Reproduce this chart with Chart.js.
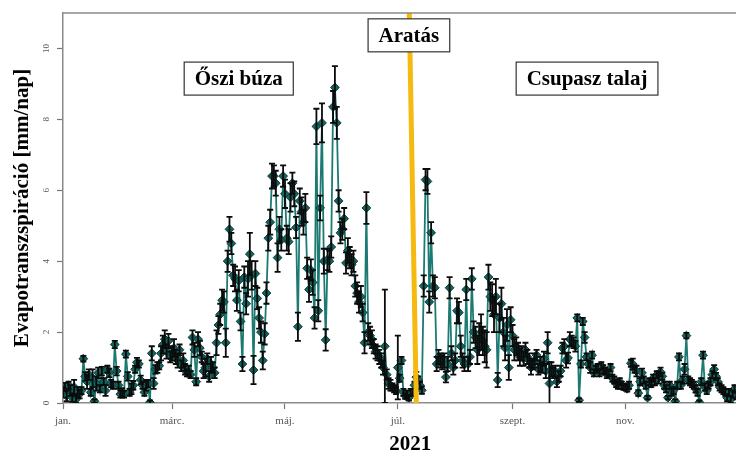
<!DOCTYPE html>
<html>
<head>
<meta charset="utf-8">
<script src="https://cdn.jsdelivr.net/npm/chart.js@4.4.0/dist/chart.umd.min.js"></script>
<style>
  html, body { margin: 0; padding: 0; background: #fff; overflow: hidden; }
  #wrap { width: 763px; height: 457px; }
</style>
</head>
<body>
<div id="wrap"><canvas id="etChart"></canvas></div>
<script>
// Daily evapotranspiration, 2021 (day 0 = jan. 1)
const etValues = [
  0.3, 0.45, 0.2, 0.5, 0.35, 0.15, 0.45, 0.1, 0.3, 0.25,
  0.35, 1.25, 0.75, 0.6, 0.8, 0.3, 0.7, 0.05, 0.55, 0.85,
  0.4, 0.9, 0.6, 0.35, 0.95, 0.85, 0.55, 0.5, 1.65, 0.9,
  0.5, 0.25, 0.3, 0.25, 1.38, 0.75, 0.3, 0.4, 0.5, 0.95,
  1.15, 1.1, 0.65, 0.5, 0.3, 0.5, 0.55, 0.02, 1.4, 0.55,
  0.95, 1.0, 1.05, 1.4, 1.65, 1.8, 1.45, 1.75, 1.3, 1.4,
  1.55, 1.3, 1.2, 1.5, 1.05, 1.2, 0.95, 0.85, 0.9, 0.8,
  1.85, 1.5, 0.6, 1.8, 1.55, 1.3, 0.9, 1.0, 1.25, 0.75,
  1.1, 1.0, 0.85, 1.7, 2.2, 2.5, 2.9, 2.85, 1.7, 4.0,
  4.9, 4.5, 3.6, 3.5, 2.9, 3.45, 2.3, 1.1, 3.55, 2.8,
  3.5, 4.2, 3.6, 0.93, 3.65, 2.95, 2.4, 2.0, 1.2, 1.95,
  3.1, 4.65, 5.1, 6.4, 6.4, 6.2, 4.1, 4.9, 4.6, 6.4,
  5.9, 4.65, 4.55, 5.8, 6.2, 5.9, 4.95, 2.15, 5.7, 5.4,
  5.1, 5.5, 3.8, 3.2, 3.75, 3.4, 2.4, 7.8, 2.6, 5.5,
  7.9, 4.0, 1.78, 4.05, 4.0, 4.4, 8.35, 8.9, 7.9, 5.7,
  4.8, 4.9, 5.2, 3.95, 4.3, 4.1, 3.9, 4.0, 3.3, 3.1,
  2.85, 3.0, 2.55, 1.7, 5.5, 2.0, 1.9, 1.8, 1.6, 1.45,
  1.4, 1.3, 1.2, 1.0, 1.6, 0.8, 0.55, 0.5, 0.45, 0.4,
  0.35, 1.0, 0.7, 1.2, 0.3, 0.2, 0.25, 0.15, 0.3, 0.3,
  0.5, 0.73, 0.65, 0.5, 0.36, 3.3, 6.3, 6.25, 2.85, 4.8,
  3.3, 3.25, 1.1, 1.3, 1.2, 1.15, 1.2, 0.73, 1.1, 3.25,
  1.4, 1.0, 1.2, 2.6, 2.55, 1.6, 1.2, 1.1, 3.2, 1.1,
  1.3, 3.5, 2.0, 1.85, 1.5, 1.8, 2.0, 1.75, 1.6, 1.5,
  3.55, 3.0, 2.9, 2.5, 3.0, 0.65, 2.4, 2.8, 2.0, 1.55,
  2.2, 1.0, 2.35, 1.9, 1.5, 1.6, 1.45, 1.3, 1.4, 1.25,
  1.5, 1.3, 1.2, 1.0, 1.1, 1.2, 1.35, 0.95, 1.1, 1.0,
  1.25, 0.9, 1.7, 0.55, 0.95, 0.85, 0.9, 0.6, 0.75, 0.9,
  1.55, 1.6, 1.2, 1.27, 1.8, 1.75, 1.7, 1.6, 2.4, 0.08,
  1.1, 2.3, 1.85, 1.3, 1.1, 1.0, 1.35, 0.85, 0.95, 1.0,
  0.85, 1.05, 0.95, 0.9, 0.8, 0.85, 1.0, 0.7, 0.65, 0.55,
  0.5, 0.6, 0.5, 0.45, 0.45, 0.4, 0.5, 1.12, 1.1, 0.95,
  0.9, 0.28, 0.6, 0.85, 0.65, 0.5, 0.15, 0.6, 0.55, 0.7,
  0.6, 0.8, 0.7, 0.88, 0.75, 0.5, 0.4, 0.15, 0.5, 0.3,
  0.35, 0.05, 0.5, 1.3, 0.5, 0.65, 0.95, 1.9, 0.65, 0.6,
  0.55, 0.5, 0.4, 0.3, 0.02, 0.6, 1.35, 0.45, 0.35, 0.5,
  0.6, 0.8, 0.95, 0.75, 0.6, 0.45, 0.4, 0.35, 0.3, 0.15,
  0.3, 0.1, 0.25, 0.4, 0.2
];

// Half-length of the error bar for each day
const etErrors = [
  0.15, 0.12, 0.15, 0.1, 0.15, 0.12, 0.2, 0.1, 0.15, 0.12,
  0.1, 0.08, 0.12, 0.2, 0.15, 0.1, 0.25, 0.05, 0.2, 0.15,
  0.1, 0.12, 0.1, 0.15, 0.1, 0.12, 0.1, 0.1, 0.1, 0.12,
  0.1, 0.1, 0.12, 0.1, 0.1, 0.12, 0.1, 0.15, 0.12, 0.1,
  0.12, 0.1, 0.12, 0.1, 0.1, 0.15, 0.1, 0.05, 0.2, 0.15,
  0.12, 0.15, 0.1, 0.2, 0.25, 0.25, 0.2, 0.2, 0.15, 0.2,
  0.25, 0.2, 0.2, 0.15, 0.15, 0.2, 0.15, 0.1, 0.15, 0.1,
  0.2, 0.2, 0.1, 0.2, 0.2, 0.15, 0.2, 0.25, 0.15, 0.15,
  0.2, 0.15, 0.15, 0.35, 0.25, 0.3, 0.3, 0.3, 0.4, 0.3,
  0.35, 0.3, 0.3, 0.35, 0.3, 0.3, 0.25, 0.2, 0.3, 0.3,
  0.5, 0.6, 0.4, 0.4, 0.35, 0.3, 0.3, 0.3, 0.25, 0.3,
  0.3, 0.35, 0.35, 0.35, 0.3, 0.35, 0.4, 0.35, 0.3, 0.3,
  0.4, 0.35, 0.35, 0.4, 0.3, 0.35, 0.3, 0.4, 0.35, 0.4,
  0.35, 0.4, 0.3, 0.35, 0.3, 0.35, 0.3, 0.5, 0.3, 0.35,
  0.55, 0.35, 0.3, 0.3, 0.3, 0.3, 0.45, 0.6, 0.45, 0.3,
  0.3, 0.3, 0.3, 0.3, 0.35, 0.3, 0.3, 0.3, 0.3, 0.3,
  0.3, 0.3, 0.25, 0.3, 0.45, 0.25, 0.25, 0.25, 0.2, 0.2,
  0.2, 0.2, 0.2, 0.2, 1.6, 0.15, 0.15, 0.15, 0.1, 0.1,
  0.1, 0.9, 0.1, 0.1, 0.1, 0.08, 0.1, 0.08, 0.1, 0.1,
  0.1, 0.15, 0.1, 0.1, 0.1, 0.3, 0.3, 0.35, 0.3, 0.3,
  0.3, 0.3, 0.2, 0.2, 0.2, 0.2, 0.2, 0.15, 0.2, 0.3,
  0.2, 0.2, 0.2, 0.35, 0.3, 0.3, 0.2, 0.2, 0.3, 0.2,
  0.2, 0.3, 0.3, 0.3, 0.4, 0.45, 0.5, 0.4, 0.45, 0.5,
  0.35, 0.4, 0.45, 0.5, 0.5, 0.2, 0.4, 0.45, 0.4, 0.35,
  0.45, 0.35, 0.35, 0.3, 0.3, 0.25, 0.25, 0.25, 0.2, 0.2,
  0.2, 0.2, 0.2, 0.2, 0.15, 0.2, 0.15, 0.15, 0.2, 0.15,
  0.2, 0.2, 0.3, 0.6, 0.2, 0.15, 0.15, 0.15, 0.15, 0.15,
  0.15, 0.2, 0.2, 0.15, 0.2, 0.15, 0.15, 0.15, 0.1, 0.05,
  0.1, 0.1, 0.15, 0.1, 0.1, 0.15, 0.1, 0.1, 0.1, 0.1,
  0.1, 0.1, 0.12, 0.1, 0.1, 0.1, 0.1, 0.1, 0.1, 0.1,
  0.1, 0.1, 0.1, 0.08, 0.08, 0.08, 0.1, 0.1, 0.15, 0.1,
  0.15, 0.08, 0.1, 0.12, 0.1, 0.1, 0.05, 0.1, 0.1, 0.1,
  0.1, 0.1, 0.15, 0.12, 0.1, 0.1, 0.1, 0.05, 0.1, 0.1,
  0.1, 0.05, 0.1, 0.1, 0.1, 0.1, 0.15, 0.08, 0.1, 0.1,
  0.1, 0.1, 0.1, 0.1, 0.05, 0.1, 0.1, 0.1, 0.1, 0.1,
  0.1, 0.1, 0.12, 0.1, 0.1, 0.1, 0.1, 0.1, 0.1, 0.1,
  0.1, 0.1, 0.1, 0.1, 0.1
];

// Axis ticks
const monthDays = [0, 59, 120, 181, 243, 304];
const monthLabels = ["jan.", "márc.", "máj.", "júl.", "szept.", "nov."];
const yTicks = [0, 2, 4, 6, 8, 10];

// Harvest line (day, value) at the top and at the bottom
const harvestDays = [187.2, 191];
const harvestValues = [11, 0];

// Labels in boxes: [day, value, text]
const boxLabels = [
  [95, 9.15, "Őszi búza"],
  [187, 10.37, "Aratás"],
  [283.3, 9.15, "Csupasz talaj"]
];

const serif = "'Liberation Serif', 'Times New Roman', serif";

// error bars for the main series
const errorBars = {
  id: "errorBars",
  afterDatasetDraw(chart, args) {
    if (args.index !== 0) return;
    const { ctx, chartArea } = chart;
    const xs = chart.scales.x, ys = chart.scales.y;
    ctx.save();
    ctx.beginPath();
    ctx.rect(chartArea.left, chartArea.top, chartArea.right - chartArea.left, chartArea.bottom - chartArea.top);
    ctx.clip();
    ctx.strokeStyle = "#0b0b0b";
    ctx.lineWidth = 1.8;
    etValues.forEach((v, i) => {
      const e = etErrors[i];
      const x = xs.getPixelForValue(i);
      const y1 = ys.getPixelForValue(v + e);
      const y2 = ys.getPixelForValue(v - e);
      ctx.beginPath();
      ctx.moveTo(x, y1); ctx.lineTo(x, y2);
      ctx.moveTo(x - 3, y1); ctx.lineTo(x + 3, y1);
      ctx.moveTo(x - 3, y2); ctx.lineTo(x + 3, y2);
      ctx.stroke();
    });
    ctx.restore();
  }
};

// top border + boxed labels
const frameAndLabels = {
  id: "frameAndLabels",
  afterDraw(chart) {
    const { ctx, chartArea } = chart;
    const xs = chart.scales.x, ys = chart.scales.y;
    ctx.save();
    ctx.strokeStyle = "#8a8a8a";
    ctx.lineWidth = 1.5;
    ctx.beginPath();
    ctx.moveTo(chartArea.left, chartArea.top);
    ctx.lineTo(chartArea.right, chartArea.top);
    ctx.stroke();

    ctx.font = "bold 21px " + serif;
    ctx.textAlign = "center";
    ctx.textBaseline = "middle";
    boxLabels.forEach(([d, v, text]) => {
      const cx = xs.getPixelForValue(d);
      const cy = ys.getPixelForValue(v);
      const w = ctx.measureText(text).width + 21;
      const h = 33;
      ctx.fillStyle = "#fff";
      ctx.fillRect(cx - w / 2, cy - h / 2, w, h);
      ctx.strokeStyle = "#333";
      ctx.lineWidth = 1.2;
      ctx.strokeRect(cx - w / 2, cy - h / 2, w, h);
      ctx.fillStyle = "#000";
      ctx.fillText(text, cx, cy + 1);
    });
    ctx.restore();
  }
};

const ctx = document.getElementById("etChart").getContext("2d");
const chart = new Chart(ctx, {
  type: "line",
  data: {
    datasets: [{
      data: etValues.map((v, i) => ({ x: i, y: v })),
      borderColor: "#1d7a73",
      borderWidth: 1.8,
      pointStyle: "rectRot",
      pointRadius: 4.4,
      pointBackgroundColor: "#14635d",
      pointBorderColor: "#0b3e3a",
      pointBorderWidth: 1,
      tension: 0,
      order: 1
    }, {
      data: harvestDays.map((d, i) => ({ x: d, y: harvestValues[i] })),
      borderColor: "#f5b90f",
      borderWidth: 5,
      pointRadius: 0,
      order: 0
    }]
  },
  options: {
    responsive: true,
    maintainAspectRatio: false,
    animation: false,
    layout: { padding: { top: 13, left: 0, right: 0, bottom: 0 } },
    plugins: { legend: { display: false }, tooltip: { enabled: false } },
    scales: {
      x: {
        type: "linear",
        min: 0,
        max: 375.5,
        afterBuildTicks: (scale) => { scale.ticks = monthDays.map(v => ({ value: v })); },
        afterFit: (scale) => { scale.height = 54; },
        ticks: {
          autoSkip: false,
          maxRotation: 0,
          padding: 6,
          color: "#555",
          font: { family: serif, size: 11 },
          callback: (v) => monthLabels[monthDays.indexOf(v)]
        },
        grid: { drawOnChartArea: false, tickLength: 6, color: "#777", tickWidth: 1.2 },
        border: { color: "#8a8a8a", width: 1.5 },
        title: {
          display: true,
          text: "2021",
          color: "#000",
          font: { family: serif, size: 21, weight: "bold" },
          padding: { top: 0, bottom: 0 }
        }
      },
      y: {
        min: 0,
        max: 11,
        afterBuildTicks: (scale) => { scale.ticks = yTicks.map(v => ({ value: v })); },
        afterFit: (scale) => { scale.width = 63; },
        ticks: {
          minRotation: 90,
          maxRotation: 90,
          crossAlign: "center",
          padding: 6,
          color: "#555",
          font: { family: serif, size: 9 }
        },
        grid: { drawOnChartArea: false, tickLength: 6, color: "#777", tickWidth: 1.2 },
        border: { color: "#8a8a8a", width: 1.5 },
        title: {
          display: true,
          text: "Evapotranszspiráció [mm/nap]",
          color: "#000",
          font: { family: serif, size: 21, weight: "bold" },
          padding: { top: 10, bottom: 0 }
        }
      }
    }
  },
  plugins: [errorBars, frameAndLabels]
});
</script>
</body>
</html>
